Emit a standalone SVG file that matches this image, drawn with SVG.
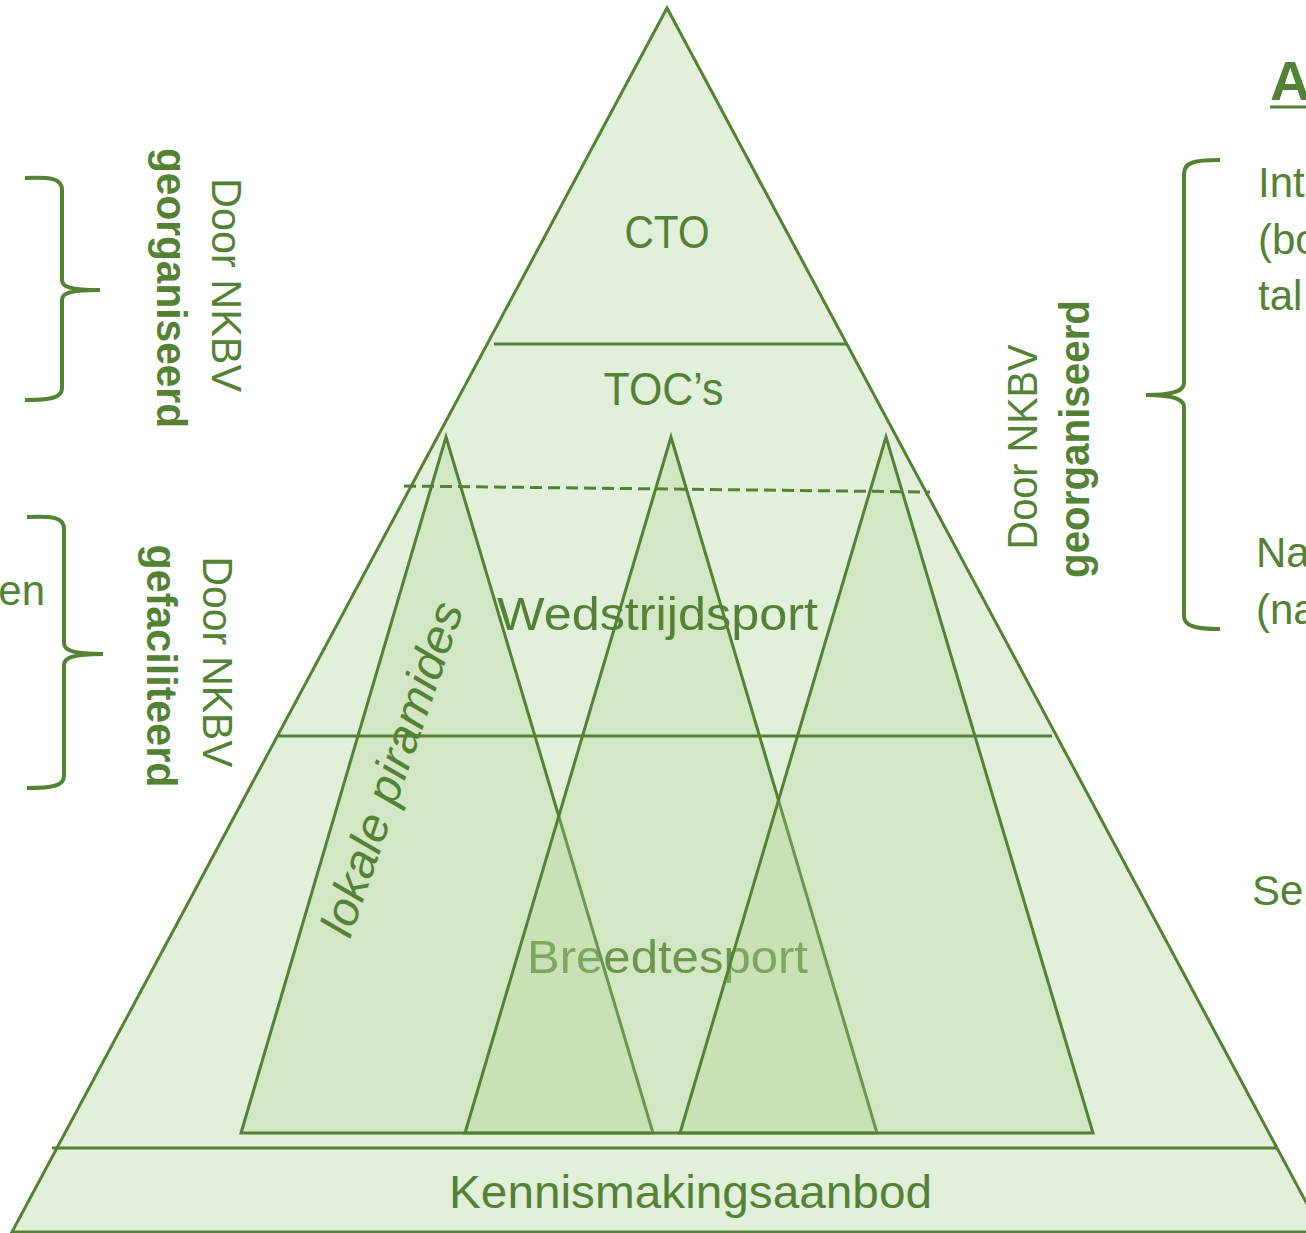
<svg xmlns="http://www.w3.org/2000/svg" width="1306" height="1233" viewBox="0 0 1306 1233">
<style>
.ln{stroke:#548235;stroke-width:3;fill:none}
.tri{fill:#a9d18e;fill-opacity:0.27;stroke:#548235;stroke-width:3;stroke-linejoin:miter}
.lbl{font-family:"Liberation Sans",Arial,sans-serif;fill:#548235;font-size:47px}
.side{font-family:"Liberation Sans",Arial,sans-serif;fill:#548235;font-size:42px}
.bold{font-weight:bold}
.brace{stroke:#548235;stroke-width:4;fill:none;stroke-linecap:butt}
</style>
<rect width="1306" height="1233" fill="#ffffff"/>
<g id="pyramid">
<polygon points="667,8 1322,1232 12,1232" fill="#e2efda" stroke="#548235" stroke-width="3"/>
</g>
<g id="breedtesport">
<text class="lbl" x="667.5" y="973" text-anchor="middle" textLength="281" lengthAdjust="spacingAndGlyphs">Breedtesport</text>
</g>
<g id="lokale-piramide-1"><polygon class="tri" points="446,437 653,1133 241,1133"/></g>
<g id="lokale-piramide-2"><polygon class="tri" points="671,437 877,1133 465,1133"/></g>
<g id="lokale-piramide-3"><polygon class="tri" points="886,437 1093,1133 680,1133"/></g>
<g id="connectors">
<line class="ln" x1="494" y1="344" x2="848" y2="344"/>
<line class="ln" x1="278" y1="736" x2="1052" y2="736"/>
<line class="ln" x1="52" y1="1148" x2="1278" y2="1148"/>
<line class="ln" x1="404" y1="486" x2="930" y2="492" stroke-dasharray="12,6"/>
</g>
<g id="cto"><text class="lbl" x="667" y="248" text-anchor="middle" textLength="85" lengthAdjust="spacingAndGlyphs">CTO</text></g>
<g id="tocs"><text class="lbl" x="663.5" y="405" text-anchor="middle" textLength="120" lengthAdjust="spacingAndGlyphs">TOC’s</text></g>
<g id="wedstrijdsport"><text class="lbl" x="657.5" y="630" text-anchor="middle" textLength="321" lengthAdjust="spacingAndGlyphs">Wedstrijdsport</text></g>
<g id="kennismakingsaanbod"><text class="lbl" x="690.5" y="1208" text-anchor="middle" textLength="483" lengthAdjust="spacingAndGlyphs">Kennismakingsaanbod</text></g>
<g id="lokale-piramides-label"><text class="lbl" font-style="italic" transform="translate(407,774) rotate(-71)" text-anchor="middle" textLength="350" lengthAdjust="spacingAndGlyphs">lokale piramides</text></g>
<g id="braces">
<path class="brace" d="M25,178 C50,177 62,178 62,190 L62,280 C62,287 70,290 100,290 C70,290 62,293 62,300 L62,388 C62,398 50,400 25,400"/>
<path class="brace" d="M27,517 C52,516 64,517 64,529 L64,643 C64,650 72,654 103,654 C72,654 64,658 64,665 L64,776 C64,786 52,788 27,788"/>
<path class="brace" d="M1220,160 C1195,160 1184,162 1184,174 L1184,383 C1184,390 1176,395 1146,395 C1176,395 1184,400 1184,407 L1184,616 C1184,626 1195,629 1220,629"/>
</g>
<g id="left-label-1">
<text class="side" transform="translate(212,285) rotate(90)" text-anchor="middle" textLength="214" lengthAdjust="spacingAndGlyphs">Door NKBV</text>
<text class="side bold" transform="translate(157,288) rotate(90)" text-anchor="middle" textLength="280" lengthAdjust="spacingAndGlyphs">georganiseerd</text>
</g>
<g id="left-label-2">
<text class="side" transform="translate(203,662) rotate(90)" text-anchor="middle" textLength="211" lengthAdjust="spacingAndGlyphs">Door NKBV</text>
<text class="side bold" transform="translate(147,666) rotate(90)" text-anchor="middle" textLength="243" lengthAdjust="spacingAndGlyphs">gefaciliteerd</text>
</g>
<g id="right-label">
<text class="side" transform="translate(1037,447) rotate(-90)" text-anchor="middle" textLength="205" lengthAdjust="spacingAndGlyphs">Door NKBV</text>
<text class="side bold" transform="translate(1089,439) rotate(-90)" text-anchor="middle" textLength="278" lengthAdjust="spacingAndGlyphs">georganiseerd</text>
</g>
<g id="right-texts">
<text class="side bold" x="1270" y="100" style="font-size:56px">A</text>
<line x1="1270" y1="107" x2="1306" y2="107" stroke="#548235" stroke-width="3"/>
<text class="side" x="1258" y="197">Int</text>
<text class="side" x="1258" y="254">(bo</text>
<text class="side" x="1258" y="310">tal</text>
<text class="side" x="1256" y="567">Na</text>
<text class="side" x="1256" y="624">(na</text>
<text class="side" x="1252" y="905">Ser</text>
</g>
<g id="left-texts">
<text class="side" x="45" y="605" text-anchor="end">en</text>
</g>
</svg>
